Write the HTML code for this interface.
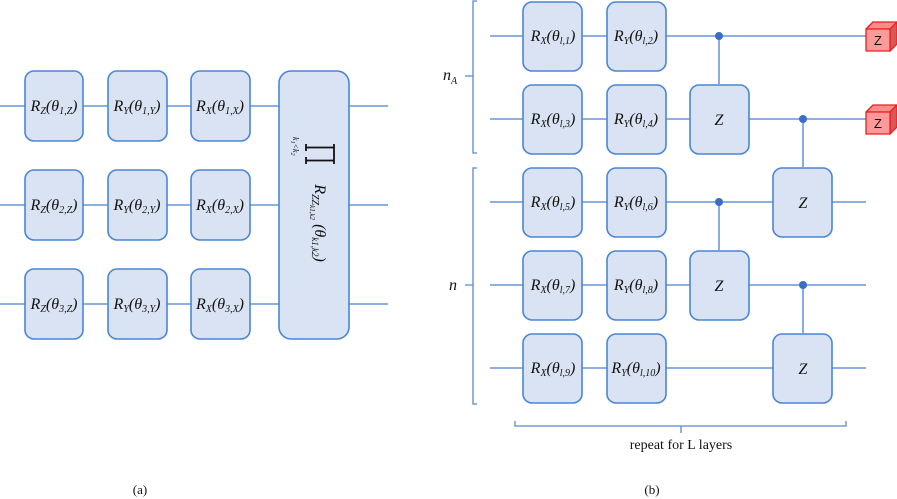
<!DOCTYPE html>
<html><head><meta charset="utf-8"><style>
html,body{margin:0;padding:0;background:#fff;}
svg{display:block;}
text{font-family:"Liberation Serif",serif;fill:#111;}
.i{font-style:italic;}
.b{fill:#dae3f3;stroke:#4a86d6;stroke-width:1.6;}
.w{stroke:#4a7fd0;stroke-width:1.3;fill:none;}
.br{stroke:#5b87d0;stroke-width:1.3;fill:none;}
</style></head><body>
<svg width="897" height="499" viewBox="0 0 897 499">
<!-- Panel (a) -->
<g>
<line class="w" x1="0" y1="106" x2="388" y2="106"/>
<line class="w" x1="0" y1="205" x2="388" y2="205"/>
<line class="w" x1="0" y1="304" x2="388" y2="304"/>
<rect class="b" x="25" y="71" width="58" height="70" rx="9"/>
<rect class="b" x="108" y="71" width="59" height="70" rx="9"/>
<rect class="b" x="191" y="71" width="59" height="70" rx="9"/>
<rect class="b" x="25" y="170" width="58" height="70" rx="9"/>
<rect class="b" x="108" y="170" width="59" height="70" rx="9"/>
<rect class="b" x="191" y="170" width="59" height="70" rx="9"/>
<rect class="b" x="25" y="269" width="58" height="70" rx="9"/>
<rect class="b" x="108" y="269" width="59" height="70" rx="9"/>
<rect class="b" x="191" y="269" width="59" height="70" rx="9"/>
<rect class="b" x="279" y="71" width="70" height="268" rx="12"/>
<g font-size="16" class="i">
<text x="54" y="111" text-anchor="middle">R<tspan font-size="10" dy="3">Z</tspan><tspan dy="-3">(θ</tspan><tspan font-size="10" dy="3">1,Z</tspan><tspan dy="-3">)</tspan></text>
<text x="137" y="111" text-anchor="middle">R<tspan font-size="10" dy="3">Y</tspan><tspan dy="-3">(θ</tspan><tspan font-size="10" dy="3">1,Y</tspan><tspan dy="-3">)</tspan></text>
<text x="220" y="111" text-anchor="middle">R<tspan font-size="10" dy="3">X</tspan><tspan dy="-3">(θ</tspan><tspan font-size="10" dy="3">1,X</tspan><tspan dy="-3">)</tspan></text>
<text x="54" y="210" text-anchor="middle">R<tspan font-size="10" dy="3">Z</tspan><tspan dy="-3">(θ</tspan><tspan font-size="10" dy="3">2,Z</tspan><tspan dy="-3">)</tspan></text>
<text x="137" y="210" text-anchor="middle">R<tspan font-size="10" dy="3">Y</tspan><tspan dy="-3">(θ</tspan><tspan font-size="10" dy="3">2,Y</tspan><tspan dy="-3">)</tspan></text>
<text x="220" y="210" text-anchor="middle">R<tspan font-size="10" dy="3">X</tspan><tspan dy="-3">(θ</tspan><tspan font-size="10" dy="3">2,X</tspan><tspan dy="-3">)</tspan></text>
<text x="54" y="309" text-anchor="middle">R<tspan font-size="10" dy="3">Z</tspan><tspan dy="-3">(θ</tspan><tspan font-size="10" dy="3">3,Z</tspan><tspan dy="-3">)</tspan></text>
<text x="137" y="309" text-anchor="middle">R<tspan font-size="10" dy="3">Y</tspan><tspan dy="-3">(θ</tspan><tspan font-size="10" dy="3">3,Y</tspan><tspan dy="-3">)</tspan></text>
<text x="220" y="309" text-anchor="middle">R<tspan font-size="10" dy="3">X</tspan><tspan dy="-3">(θ</tspan><tspan font-size="10" dy="3">3,X</tspan><tspan dy="-3">)</tspan></text>
</g>
<!-- product symbol (rotated) -->
<path d="M334,144 L334,164 M334,147.5 L306,147.5 M334,160.5 L306,160.5 M306,144 L306,151 M306,157 L306,164" stroke="#111" stroke-width="1.8" fill="none"/>
<g transform="translate(296,154) rotate(90)">
<text class="i" x="-17" y="3" font-size="8">k<tspan font-size="6" dy="2">1</tspan><tspan dy="-2">&lt;k</tspan><tspan font-size="6" dy="2">2</tspan></text>
</g>
<g transform="translate(320,223) rotate(90)">
<text class="i" x="0" y="5" font-size="16" text-anchor="middle">R<tspan font-size="10" dy="3">ZZ</tspan><tspan font-size="7" dy="2">k1,k2</tspan><tspan dy="-5" font-size="16"> (θ</tspan><tspan font-size="9" dy="3">k1,k2</tspan><tspan dy="-3">)</tspan></text>
</g>
<text x="140" y="494" font-size="13" text-anchor="middle">(a)</text>
</g>

<!-- Panel (b) -->
<g>
<line class="w" x1="490" y1="36" x2="866" y2="36"/>
<line class="w" x1="490" y1="119" x2="866" y2="119"/>
<line class="w" x1="490" y1="202" x2="866" y2="202"/>
<line class="w" x1="490" y1="285" x2="866" y2="285"/>
<line class="w" x1="490" y1="368" x2="866" y2="368"/>
<line class="w" x1="719" y1="36" x2="719" y2="84"/>
<line class="w" x1="803" y1="119" x2="803" y2="167"/>
<line class="w" x1="719" y1="202" x2="719" y2="250"/>
<line class="w" x1="803" y1="285" x2="803" y2="333"/>
<circle cx="719" cy="36" r="4" fill="#3a6cc8"/>
<circle cx="803" cy="119" r="4" fill="#3a6cc8"/>
<circle cx="719" cy="202" r="4" fill="#3a6cc8"/>
<circle cx="803" cy="285" r="4" fill="#3a6cc8"/>
<rect class="b" x="523" y="2" width="59" height="69" rx="9"/>
<rect class="b" x="607" y="2" width="59" height="69" rx="9"/>
<rect class="b" x="523" y="85" width="59" height="69" rx="9"/>
<rect class="b" x="607" y="85" width="59" height="69" rx="9"/>
<rect class="b" x="690" y="85" width="59" height="69" rx="9"/>
<rect class="b" x="523" y="168" width="59" height="69" rx="9"/>
<rect class="b" x="607" y="168" width="59" height="69" rx="9"/>
<rect class="b" x="773" y="168" width="59" height="69" rx="9"/>
<rect class="b" x="523" y="251" width="59" height="69" rx="9"/>
<rect class="b" x="607" y="251" width="59" height="69" rx="9"/>
<rect class="b" x="690" y="251" width="59" height="69" rx="9"/>
<rect class="b" x="523" y="334" width="59" height="69" rx="9"/>
<rect class="b" x="607" y="334" width="59" height="69" rx="9"/>
<rect class="b" x="773" y="334" width="59" height="69" rx="9"/>
<g font-size="16" class="i">
<text x="553" y="41" text-anchor="middle">R<tspan font-size="10" dy="3">X</tspan><tspan dy="-3">(θ</tspan><tspan font-size="10" dy="3">l,1</tspan><tspan dy="-3">)</tspan></text>
<text x="636" y="41" text-anchor="middle">R<tspan font-size="10" dy="3">Y</tspan><tspan dy="-3">(θ</tspan><tspan font-size="10" dy="3">l,2</tspan><tspan dy="-3">)</tspan></text>
<text x="553" y="124" text-anchor="middle">R<tspan font-size="10" dy="3">X</tspan><tspan dy="-3">(θ</tspan><tspan font-size="10" dy="3">l,3</tspan><tspan dy="-3">)</tspan></text>
<text x="636" y="124" text-anchor="middle">R<tspan font-size="10" dy="3">Y</tspan><tspan dy="-3">(θ</tspan><tspan font-size="10" dy="3">l,4</tspan><tspan dy="-3">)</tspan></text>
<text x="553" y="207" text-anchor="middle">R<tspan font-size="10" dy="3">X</tspan><tspan dy="-3">(θ</tspan><tspan font-size="10" dy="3">l,5</tspan><tspan dy="-3">)</tspan></text>
<text x="636" y="207" text-anchor="middle">R<tspan font-size="10" dy="3">Y</tspan><tspan dy="-3">(θ</tspan><tspan font-size="10" dy="3">l,6</tspan><tspan dy="-3">)</tspan></text>
<text x="553" y="290" text-anchor="middle">R<tspan font-size="10" dy="3">X</tspan><tspan dy="-3">(θ</tspan><tspan font-size="10" dy="3">l,7</tspan><tspan dy="-3">)</tspan></text>
<text x="636" y="290" text-anchor="middle">R<tspan font-size="10" dy="3">Y</tspan><tspan dy="-3">(θ</tspan><tspan font-size="10" dy="3">l,8</tspan><tspan dy="-3">)</tspan></text>
<text x="553" y="373" text-anchor="middle">R<tspan font-size="10" dy="3">X</tspan><tspan dy="-3">(θ</tspan><tspan font-size="10" dy="3">l,9</tspan><tspan dy="-3">)</tspan></text>
<text x="636" y="373" text-anchor="middle">R<tspan font-size="10" dy="3">Y</tspan><tspan dy="-3">(θ</tspan><tspan font-size="10" dy="3">l,10</tspan><tspan dy="-3">)</tspan></text>
<text x="719" y="125" text-anchor="middle">Z</text>
<text x="719" y="291" text-anchor="middle">Z</text>
<text x="803" y="208" text-anchor="middle">Z</text>
<text x="803" y="374" text-anchor="middle">Z</text>
</g>
<g stroke="#ee1c1c" stroke-width="1.3" stroke-linejoin="round">
<polygon points="866,29 873,22 897,22 890,29" fill="#ff8c8c"/>
<polygon points="890,29 897,22 897,44 890,51" fill="#d45a5a"/>
<rect x="866" y="29" width="24" height="22" fill="#ff9a9a"/>
<polygon points="866,112 873,105 897,105 890,112" fill="#ff8c8c"/>
<polygon points="890,112 897,105 897,127 890,134" fill="#d45a5a"/>
<rect x="866" y="112" width="24" height="22" fill="#ff9a9a"/>
</g>
<text x="878" y="45" font-size="13" text-anchor="middle" style="font-family:'Liberation Sans',sans-serif">Z</text>
<text x="878" y="128" font-size="13" text-anchor="middle" style="font-family:'Liberation Sans',sans-serif">Z</text>
<path class="br" d="M477,1 L473,1 L473,153 L477,153 M473,76 L465,76"/>
<path class="br" d="M477,168 L473,168 L473,404 L477,404 M473,285 L465,285"/>
<text class="i" x="443" y="80" font-size="16">n<tspan font-size="10" dy="4">A</tspan></text>
<text class="i" x="449" y="290" font-size="16">n</text>
<path class="br" d="M515,421 L515,426 L846,426 L846,421 M681,426 L681,433"/>
<text x="681" y="449" font-size="14" text-anchor="middle">repeat for L layers</text>
<text x="652" y="494" font-size="13" text-anchor="middle">(b)</text>
</g>
</svg>
</body></html>
